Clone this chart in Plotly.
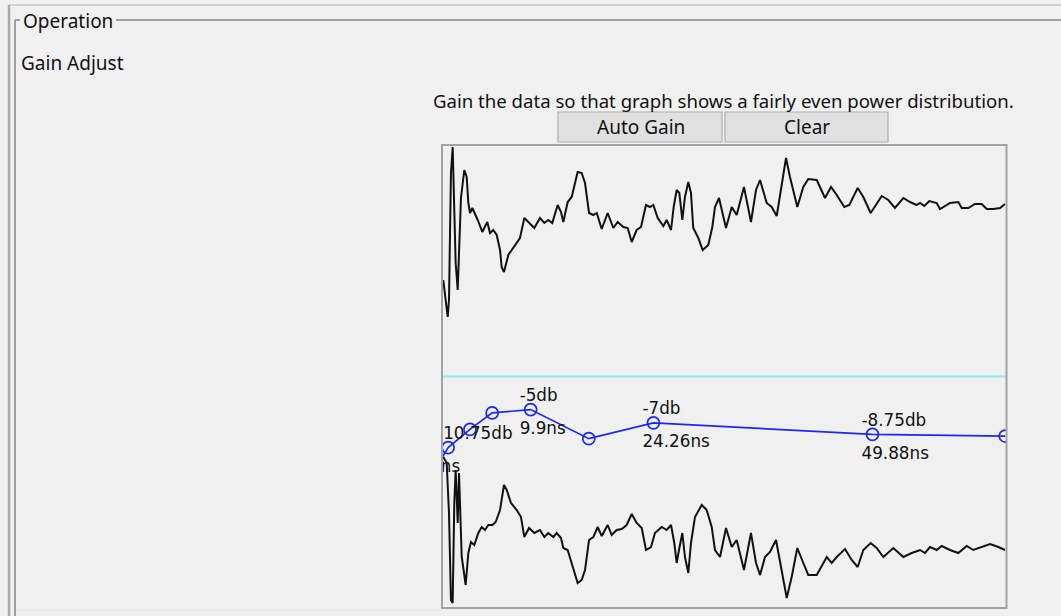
import plotly.graph_objects as go

W, H = 1061, 616

# ---------------- data ----------------
# raw trace (upper panel): time in ns, amplitude in arbitrary units
top_t = [-0.32, 0.20, 0.35, 0.47, 0.58, 0.78, 0.97, 1.13, 1.37, 1.52,
         1.75, 2.14, 2.42, 2.61, 2.81, 3.08, 3.31, 3.71, 4.25, 4.56,
         4.83, 5.15, 5.53, 5.93, 6.32, 6.51, 6.78, 7.29, 8.07, 8.65,
         9.16, 9.63, 10.33, 10.99, 11.50, 11.96, 12.43, 13.06, 13.45, 13.72,
         14.23, 14.70, 15.40, 15.87, 16.26, 16.73, 17.23, 17.63, 18.21, 18.91,
         19.57, 20.08, 20.74, 21.25, 21.72, 22.30, 22.81, 23.39, 23.86, 24.25,
         24.76, 25.42, 25.81, 26.32, 26.63, 26.98, 27.29, 27.64, 27.95, 28.34,
         28.65, 28.92, 29.51, 30.02, 30.68, 31.15, 31.46, 31.93, 32.32, 32.75,
         33.42, 34.00, 34.85, 35.67, 36.26, 36.73, 37.51, 38.09, 38.68, 39.26,
         39.77, 40.23, 41.09, 41.79, 42.37, 43.36, 44.33, 45.03, 45.70, 46.58,
         47.17, 48.15, 48.81, 49.67, 50.96, 51.73, 52.51, 53.49, 54.27, 55.05,
         55.44, 55.94, 56.53, 57.39, 57.78, 58.95, 59.92, 60.32, 61.09, 61.87,
         62.65, 63.24, 64.01, 64.80, 65.38]
top_amp = [-77, -114, -97, -40, 30, 56, 3, -60, -87, -40,
           5, 33, 26, 0, -10, -5, -9, -17, -29, -24,
           -19, -30, -27, -32, -47, -64, -69, -52, -42, -35,
           -15, -19, -25, -15, -20, -17, -20, -2, -9, -19,
           1, 6, 31, 30, 20, -10, -12, -10, -26, -10,
           -25, -19, -24, -25, -39, -27, -24, -2, -4, -2,
           -15, -23, -17, -27, -4, 13, 10, -17, 6, 21,
           10, -25, -35, -47, -42, -24, -4, 5, -9, -25,
           -4, -12, 16, -19, 13, 23, 0, -4, -13, 20,
           45, 26, -4, 16, 24, 23, 5, 16, 8, -4,
           -2, 15, 6, -10, 7, 3, -5, 5, 1, -2,
           0, -3, 2, 0, -6, 0, 1, -5, -5, -1,
           -1, -6, -6, -5, -1]

# gained trace (lower panel)
bot_t = [-0.32, 0.08, 0.35, 0.58, 0.78, 0.97, 1.13, 1.37, 1.52, 1.84,
         2.30, 2.61, 2.92, 3.31, 3.78, 4.18, 4.56, 4.95, 5.42, 5.81,
         6.32, 6.78, 7.10, 7.60, 8.27, 8.77, 9.16, 9.71, 10.33, 10.99,
         11.50, 11.96, 12.55, 12.95, 13.45, 13.72, 14.23, 14.70, 15.40, 15.87,
         16.26, 16.73, 17.23, 17.74, 18.21, 18.91, 19.38, 19.96, 20.55, 21.13,
         21.72, 22.30, 22.89, 23.39, 23.98, 24.44, 25.23, 25.81, 26.32, 26.70,
         26.98, 27.25, 27.64, 27.95, 28.34, 28.65, 29.12, 29.91, 30.49, 31.08,
         31.46, 32.05, 32.75, 33.42, 34.00, 34.85, 35.67, 36.26, 36.73, 37.31,
         37.89, 38.60, 39.26, 39.85, 40.43, 41.09, 41.79, 42.37, 43.36, 44.53,
         45.11, 45.70, 46.67, 47.45, 48.15, 48.81, 49.67, 50.37, 51.15, 52.32,
         53.49, 54.47, 55.44, 56.02, 56.61, 57.39, 57.97, 58.95, 59.92, 60.90,
         61.67, 62.65, 63.63, 64.60, 65.38]
bot_amp = [91, 85, 35, -52, -55, 45, 78, 25, 75, -9,
           -37, -5, 6, 3, 15, 21, 18, 23, 23, 26,
           38, 63, 58, 45, 38, 31, 11, 20, 15, 18,
           11, 15, 11, 15, 10, 0, -2, -15, -35, -32,
           -22, 8, 11, 21, 12, 23, 13, 18, 19, 23,
           34, 25, 20, -2, 1, 15, 21, 18, 23, 5,
           -15, -2, 15, -9, -25, 5, 31, 43, 38, 21,
           -2, -9, 20, 1, 8, -22, 15, -15, -27, -9,
           -4, 8, -22, -50, -29, 0, -15, -27, -27, -9,
           -15, -9, -1, -12, -19, -2, 5, 0, -9, 0,
           -9, -5, -2, -5, 1, -2, 2, -2, -5, 2,
           -2, 1, 4, 1, -2]

# gain curve control points
gain_t = [-1.0, 0.25, 2.8, 5.4, 9.9, 16.7, 24.26, 49.88, 65.4]
gain_db = [-13.4, -10.75, -8.0, -5.5, -5.0, -9.4, -7.0, -8.75, -9.0]
label_idx = [1, 4, 6, 7]
label_db = ["-10.75db", "-5db", "-7db", "-8.75db"]
label_ns = ["0ns", "9.9ns", "24.26ns", "49.88ns"]

# axis ranges
x_range = [-0.351, 65.556]
top_range = [-173.5, 58]
bot_range = [-60, 171.5]
gain_range = [-35, 35]

# ---------------- layout geometry (pixels) ----------------
def px(x):
    return x / W

def py(y):
    return 1 - y / H

BOX_L, BOX_R, BOX_T, BOX_B, MID = 443, 1006.5, 145, 608, 376.5

ns_px = (BOX_R - BOX_L) / (x_range[1] - x_range[0])
db_px = (BOX_B - BOX_T) / (gain_range[1] - gain_range[0])

LBL_FONT = dict(family="DejaVu Sans", size=16.8, color="#111111")
UI_FONT = dict(family="Noto Sans", size=19, color="#101010")
UI_FONT_LONG = dict(family="Noto Sans", size=18.6, color="#101010")

fig = go.Figure()

# 0 dB reference line
fig.add_trace(go.Scatter(x=x_range, y=[0, 0], xaxis="x", yaxis="y3", mode="lines",
                         line=dict(color="#80eef4", width=2), hoverinfo="skip"))
# waveforms
fig.add_trace(go.Scatter(x=top_t, y=top_amp, xaxis="x", yaxis="y", mode="lines",
                         line=dict(color="#111111", width=2), hoverinfo="skip"))
fig.add_trace(go.Scatter(x=bot_t, y=bot_amp, xaxis="x", yaxis="y2", mode="lines",
                         line=dict(color="#111111", width=2), hoverinfo="skip"))
# gain curve
fig.add_trace(go.Scatter(x=gain_t, y=gain_db, xaxis="x", yaxis="y3", mode="lines+markers",
                         line=dict(color="#1a28f2", width=1.7),
                         marker=dict(symbol="circle-open", size=12,
                                     line=dict(color="#1a28f2", width=1.7)),
                         hoverinfo="skip", cliponaxis=True))
# labels
dx = -11 / ns_px
fig.add_trace(go.Scatter(
    x=[gain_t[i] + dx for i in label_idx],
    y=[gain_db[i] + 13 / db_px for i in label_idx],
    text=label_db, xaxis="x", yaxis="y3", mode="text", textposition="middle right",
    textfont=LBL_FONT, cliponaxis=True, hoverinfo="skip"))
fig.add_trace(go.Scatter(
    x=[gain_t[i] + dx - (7 / ns_px if i == label_idx[0] else 0) for i in label_idx],
    y=[gain_db[i] - 20 / db_px for i in label_idx],
    text=label_ns, xaxis="x", yaxis="y3", mode="text", textposition="middle right",
    textfont=LBL_FONT, cliponaxis=True, hoverinfo="skip"))

hidden = dict(showgrid=False, zeroline=False, showticklabels=False, showline=False,
              ticks="", fixedrange=True)

shapes = []
# window / group box chrome
shapes.append(dict(type="line", xref="paper", yref="paper", x0=px(9), x1=px(W), y0=py(5), y1=py(5),
                   line=dict(color="#c9c9c9", width=1.5)))
shapes.append(dict(type="line", xref="paper", yref="paper", x0=px(9), x1=px(9), y0=py(5), y1=py(H),
                   line=dict(color="#a8a8a8", width=2.5)))
shapes.append(dict(type="line", xref="paper", yref="paper", x0=px(15), x1=px(20), y0=py(20), y1=py(20),
                   line=dict(color="#a0a0a0", width=2)))
shapes.append(dict(type="line", xref="paper", yref="paper", x0=px(116), x1=px(W), y0=py(20), y1=py(20),
                   line=dict(color="#a0a0a0", width=2)))
shapes.append(dict(type="line", xref="paper", yref="paper", x0=px(15), x1=px(15), y0=py(20), y1=py(H),
                   line=dict(color="#a0a0a0", width=2)))
shapes.append(dict(type="line", xref="paper", yref="paper", x0=px(16), x1=px(BOX_L - 2), y0=py(610), y1=py(610),
                   line=dict(color="#e4e4e4", width=1)))
# buttons
for x0, x1 in [(558, 722), (725, 888)]:
    shapes.append(dict(type="rect", xref="paper", yref="paper", x0=px(x0), x1=px(x1),
                       y0=py(142), y1=py(112), fillcolor="#e1e1e1",
                       line=dict(color="#adadad", width=1.2)))
# chart frame
shapes.append(dict(type="rect", xref="paper", yref="paper", x0=px(BOX_L - 1), x1=px(BOX_R),
                   y0=py(BOX_B), y1=py(BOX_T), line=dict(color="#a2a2a2", width=2), layer="above"))

annotations = [
    dict(text="Operation", x=px(21), y=py(21), xanchor="left", yanchor="middle", font=UI_FONT),
    dict(text="Gain Adjust", x=px(19), y=py(63), xanchor="left", yanchor="middle", font=UI_FONT),
    dict(text="Gain the data so that graph shows a fairly even power distribution.",
         x=px(431), y=py(100), xanchor="left", yanchor="middle", font=UI_FONT_LONG),
    dict(text="Auto Gain", x=px(641), y=py(127), xanchor="center", yanchor="middle", font=UI_FONT),
    dict(text="Clear", x=px(807), y=py(127), xanchor="center", yanchor="middle", font=UI_FONT),
]
for a in annotations:
    a.update(xref="paper", yref="paper", showarrow=False)

fig.update_layout(
    width=W, height=H, autosize=False,
    margin=dict(l=0, r=0, t=0, b=0, pad=0),
    paper_bgcolor="#f0f0f0", plot_bgcolor="rgba(0,0,0,0)",
    showlegend=False,
    xaxis=dict(domain=[px(BOX_L), px(BOX_R)], range=x_range, anchor="y", **hidden),
    yaxis=dict(domain=[py(MID), py(BOX_T)], range=top_range, anchor="x", **hidden),
    yaxis2=dict(domain=[py(BOX_B), py(MID)], range=bot_range, anchor="x", **hidden),
    yaxis3=dict(domain=[py(BOX_B), py(BOX_T)], range=gain_range, anchor="x", **hidden),
    shapes=shapes,
    annotations=annotations,
)

fig.write_html("out.html")
